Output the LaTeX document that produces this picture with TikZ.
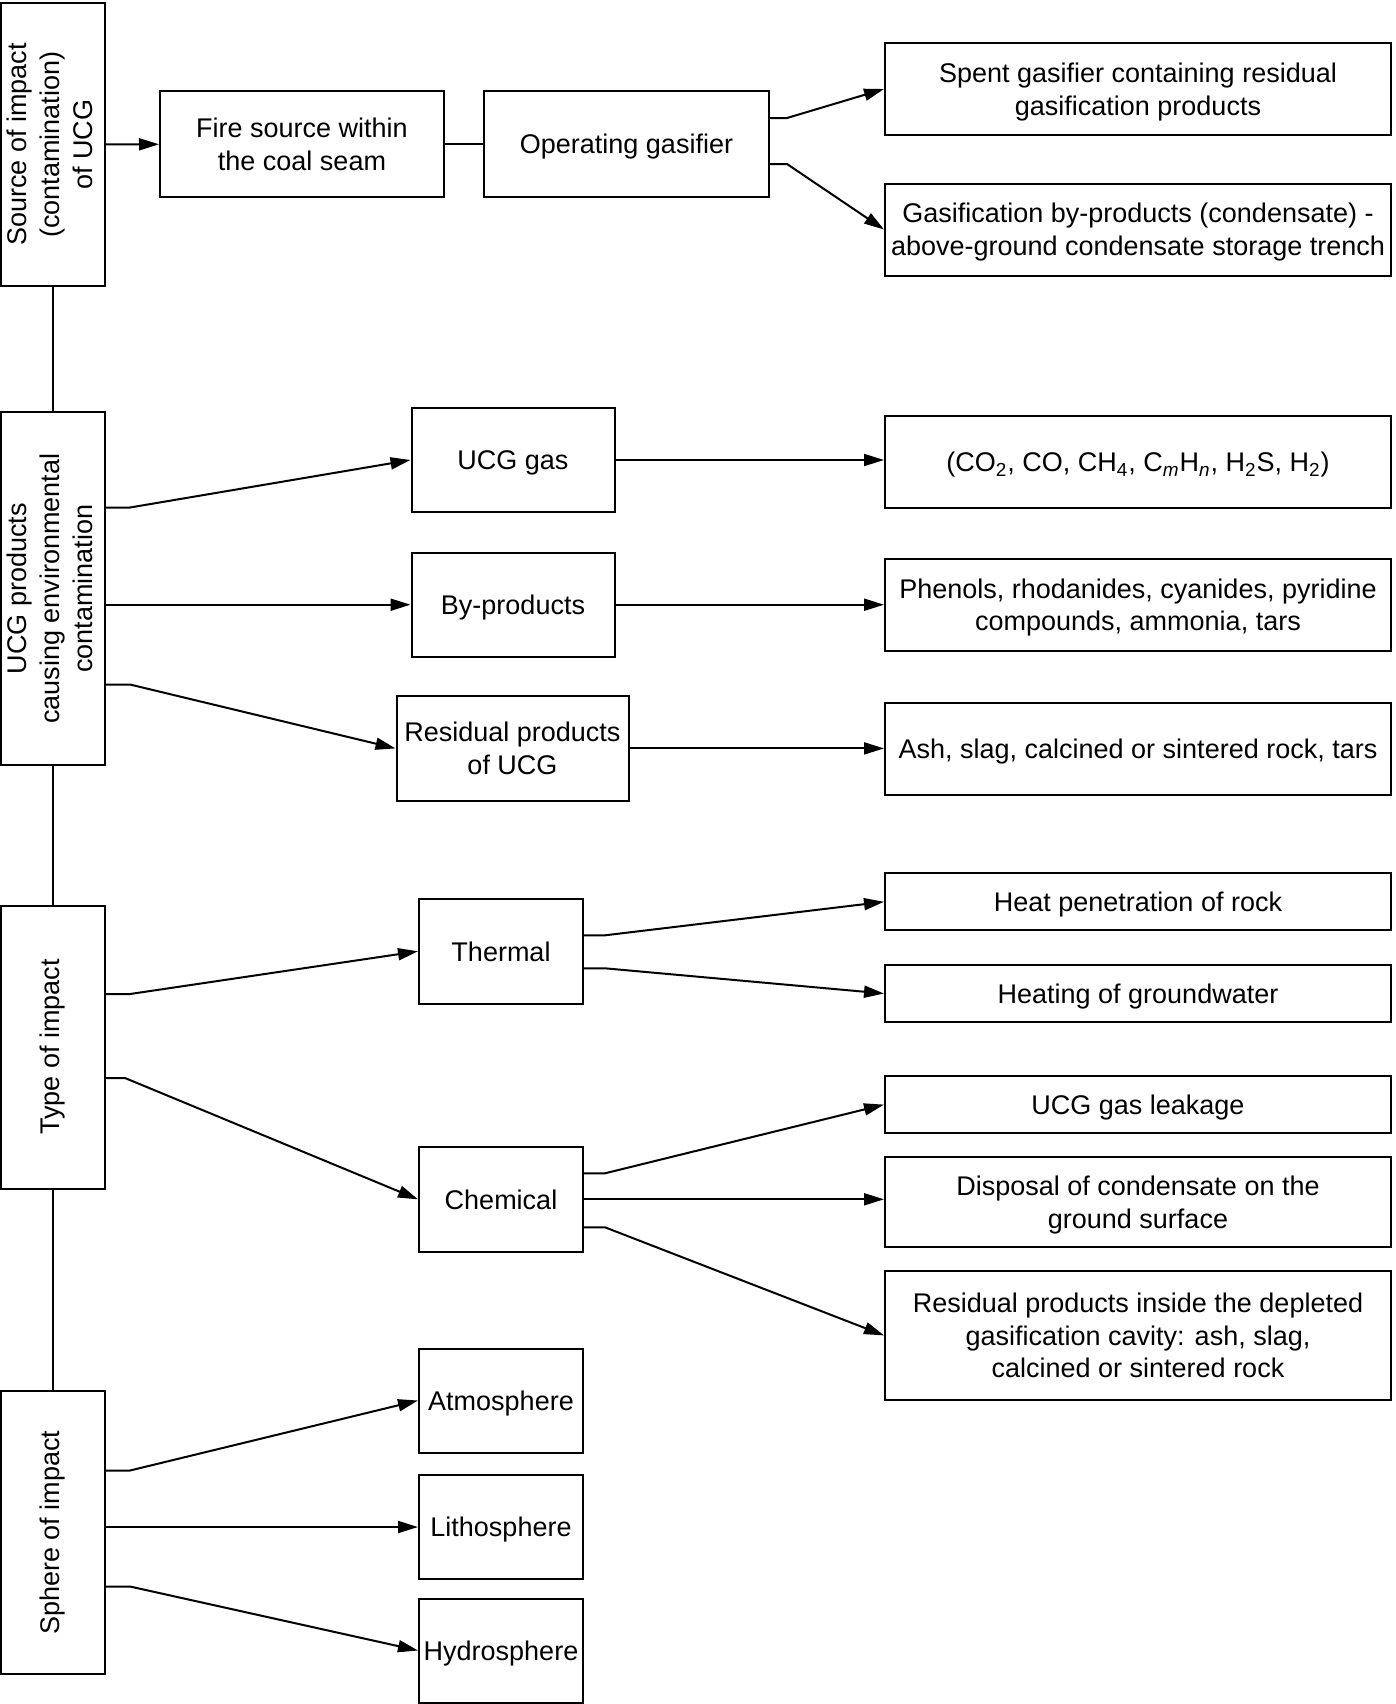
\documentclass[tikz,border=0pt]{standalone}
\usepackage{fontspec}
\setmainfont{Liberation Sans}
\usetikzlibrary{arrows.meta}

\begin{document}
\begin{tikzpicture}[x=0.5pt,y=-0.5pt,line width=1pt,font=\fontsize{13.5}{16.3}\selectfont,
  box/.style={draw,align=center,inner sep=1pt,text depth=0pt},
  side/.style={box,minimum width=52pt,minimum height=141.5pt},
  mid/.style={box,minimum width=#1,minimum height=52pt},
  ends/.style={box,minimum width=253pt,minimum height=#1},
  arr/.style={-{Triangle[length=10pt,width=6pt]}}]
\useasboundingbox (0,0) rectangle (1396,1704);
\node[side] (src) at (53,144.5) {\rotatebox{90}{\begin{tabular}{@{}c@{}}Source of impact\\(contamination)\\of UCG\end{tabular}}};
\node[side,minimum height=176.5pt] (prod) at (53,588.5) {\rotatebox{90}{\begin{tabular}{@{}c@{}}UCG products\\causing environmental\\contamination\end{tabular}}};
\node[side] (type) at (53,1047) {\rotatebox{90}{Type of impact}};
\node[side] (sphere) at (53,1532.5) {\rotatebox{90}{Sphere of impact}};
\node[mid=142pt,minimum height=53pt] (fire) at (302,144) {Fire source within\\the coal seam};
\node[mid=142.5pt,minimum height=53pt] (oper) at (626.5,144) {Operating gasifier};
\node[ends=46pt] (spent) at (1138,89) {Spent gasifier containing residual\\gasification products};
\node[ends=46pt] (gasif) at (1138,229.5) {Gasification by-products (condensate) -\\above-ground condensate storage trench};
\node[mid=101.5pt] (ucggas) at (513,460) {UCG gas};
\node[mid=101.5pt] (byprod) at (513,604.7) {By-products};
\node[mid=116pt,minimum height=52.5pt] (resid) at (512.5,748.4) {Residual products\\of UCG};
\node[ends=46pt] (gases) at (1138,462) {(CO\textsubscript{2}, CO, CH\textsubscript{4}, C\textsubscript{\itshape m}H\textsubscript{\itshape n}, H\textsubscript{2}S, H\textsubscript{2})};
\node[ends=46pt] (phen) at (1138,604.7) {Phenols, rhodanides, cyanides, pyridine\\compounds, ammonia, tars};
\node[ends=46pt] (ash) at (1138,749) {Ash, slag, calcined or sintered rock, tars};
\node[mid=82pt,minimum height=52.5pt] (thermal) at (501,951.3) {Thermal};
\node[mid=82pt,minimum height=52.5pt] (chem) at (501,1199.3) {Chemical};
\node[ends=28.5pt] (heatpen) at (1138,901.8) {Heat penetration of rock};
\node[ends=28.5pt] (heatgw) at (1138,993.5) {Heating of groundwater};
\node[ends=28.5pt] (leak) at (1138,1104.6) {UCG gas leakage};
\node[ends=45pt] (disp) at (1138,1202) {Disposal of condensate on the\\ground surface};
\node[ends=64.5pt] (cavity) at (1138,1335.4) {Residual products inside the depleted\\gasification cavity: ash, slag,\\calcined or sintered rock};
\node[mid=82pt] (atmos) at (501,1400.5) {Atmosphere};
\node[mid=82pt] (litho) at (501,1527) {Lithosphere};
\node[mid=82pt] (hydro) at (501,1650.5) {Hydrosphere};
\draw (src) -- (prod);
\draw (prod) -- (type);
\draw (type) -- (sphere);
\draw[arr] (src) -- (fire);
\draw (fire) -- (oper);
\draw[arr] ([shift={(0,-26)}]oper.east) -- ++(17,0) -- (spent.west);
\draw[arr] ([shift={(0,20)}]oper.east) -- ++(17,0) -- (gasif.west);
\draw[arr] ([shift={(0,-81)}]prod.east) -- ++(24,0) -- (ucggas.west);
\draw[arr] (prod.east |- byprod.west) -- (byprod.west);
\draw[arr] ([shift={(0,96)}]prod.east) -- ++(24,0) -- (resid.west);
\draw[arr] (ucggas.east) -- (ucggas.east -| gases.west);
\draw[arr] (byprod.east) -- (byprod.east -| phen.west);
\draw[arr] (resid.east) -- (resid.east -| ash.west);
\draw[arr] ([shift={(0,-53)}]type.east) -- ++(24,0) -- (thermal.west);
\draw[arr] ([shift={(0,31)}]type.east) -- ++(19,0) -- (chem.west);
\draw[arr] ([shift={(0,-16)}]thermal.east) -- ++(21,0) -- (heatpen.west);
\draw[arr] ([shift={(0,17)}]thermal.east) -- ++(21,0) -- (heatgw.west);
\draw[arr] ([shift={(0,-26)}]chem.east) -- ++(21,0) -- (leak.west);
\draw[arr] (chem.east) -- (chem.east -| disp.west);
\draw[arr] ([shift={(0,28)}]chem.east) -- ++(21,0) -- (cavity.west);
\draw[arr] ([shift={(0,-62)}]sphere.east) -- ++(24,0) -- (atmos.west);
\draw[arr] (sphere.east |- litho.west) -- (litho.west);
\draw[arr] ([shift={(0,54)}]sphere.east) -- ++(24,0) -- (hydro.west);
\end{tikzpicture}
\end{document}
